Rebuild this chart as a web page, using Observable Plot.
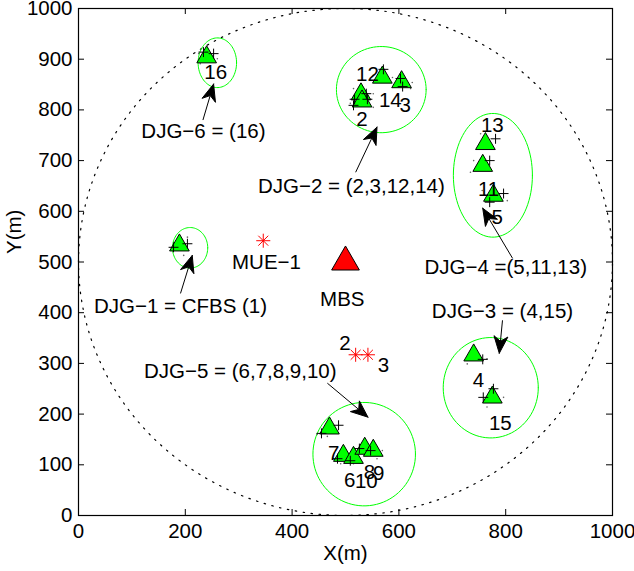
<!DOCTYPE html>
<html><head><meta charset="utf-8">
<script src="https://cdn.jsdelivr.net/npm/d3@7"></script>
<script src="https://cdn.jsdelivr.net/npm/@observablehq/plot@0.6"></script>
<style>body{margin:0;background:#fff}</style>
</head><body><div id="chart"></div>
<script>
// ---- data ----
const xTicks = [0, 200, 400, 600, 800, 1000];
const yTicks = [0, 100, 200, 300, 400, 500, 600, 700, 800, 900, 1000];

// femto base stations (green triangles)
const fbsX = [240, 569, 605, 529, 531, 762, 757, 777, 189, 740, 775, 470, 496, 515, 536, 552];
const fbsY = [904, 864, 855, 831, 817, 733, 690, 631, 533, 316, 233, 172, 118, 114, 132, 128];

// femto users (+)
const fueX = [234, 253, 571, 603, 607, 539, 517, 515, 541, 781, 770, 796, 770, 204, 178, 757, 758, 777, 487, 455, 526, 547, 509, 485];
const fueY = [914, 911, 880, 862, 846, 832, 821, 809, 821, 743, 700, 635, 618, 536, 529, 308, 233, 250, 178, 162, 132, 128, 108, 112];

// small scattered dots
const dotX = [515, 552, 552, 588, 552, 625, 622, 509, 447, 466, 569, 559, 491, 515, 753, 740, 756, 803, 734, 728, 765, 765, 796, 175, 204, 197, 225, 260, 228];
const dotY = [842, 832, 805, 864, 868, 854, 842, 813, 160, 156, 128, 112, 102, 102, 753, 700, 641, 621, 677, 299, 309, 214, 233, 529, 549, 513, 911, 901, 891];

// macro base station and macro users
const mbsX = [500], mbsY = [500];
const mueX = [346, 519, 542];
const mueY = [542, 317, 317];

// DJG cluster ellipses
const djgName = ["DJG-1", "DJG-2", "DJG-3", "DJG-4", "DJG-5", "DJG-6"];
const djgCx = [209, 567, 772, 776, 535, 260];
const djgCy = [528, 840, 252, 671, 121, 893];
const djgRx = [33, 84, 89, 74, 96, 36];
const djgRy = [40, 85, 99, 122, 102, 49];

// coverage circle of the macro cell
const cellCx = 500, cellCy = 500, cellR = 500;

// annotation texts
const annText = ["DJG\u22126 = (16)", "DJG\u22122 = (2,3,12,14)", "DJG\u22124 =(5,11,13)", "DJG\u22121 = CFBS (1)", "DJG\u22123 = (4,15)", "DJG\u22125 = (6,7,8,9,10)", "MUE\u22121", "MBS"];
const annX = [234, 511, 800, 191, 794, 303, 352, 494];
const annY = [758, 649, 489, 412, 402, 284, 499, 427];

// arrows (tail -> tip)
const arrTailX = [233, 519, 813, 191, 794, 466];
const arrTailY = [780, 677, 507, 438, 385, 261];
const arrTipX = [253, 559, 757, 213, 788, 542];
const arrTipY = [851, 766, 606, 513, 320, 194];

// index numbers
const numText = ["16", "12", "14", "3", "2", "13", "11", "5", "4", "15", "7", "8", "9", "6", "10", "2", "3"];
const numX = [257, 541, 584, 612, 531, 775, 768, 784, 749, 790, 478, 545, 562, 508, 539, 499, 571];
const numY = [874, 870, 819, 809, 782, 769, 644, 588, 266, 181, 122, 85, 83, 69, 67, 340, 296];

// ---- layout ----
const W = 634, H = 571, mL = 78, mR = 22, mT = 8, mB = 56;
const kx = (W - mL - mR) / 1000, ky = (H - mT - mB) / 1000; // px per data unit
const tickX = 6 / kx, tickY = 6 / ky;
const FS = 20.5;

// ellipse outlines (geometry from centre / radii)
const ellipsePts = [];
djgName.forEach((n, i) => {
  for (let k = 0; k <= 90; k++) {
    const a = (k / 90) * 2 * Math.PI;
    ellipsePts.push({g: n, x: djgCx[i] + djgRx[i] * Math.cos(a), y: djgCy[i] + djgRy[i] * Math.sin(a)});
  }
});
const cellPts = [];
for (let k = 0; k <= 360; k++) {
  const a = (k / 360) * 2 * Math.PI;
  cellPts.push({x: cellCx + cellR * Math.cos(a), y: cellCy + cellR * Math.sin(a)});
}

// arrows: shafts and filled notched heads
const L = 17, HW = 7, NOTCH = 5;
const shafts = [], heads = [];
arrTipX.forEach((tx, i) => {
  const sx = arrTailX[i], sy = arrTailY[i], ty = arrTipY[i];
  const dxp = (tx - sx) * kx, dyp = (ty - sy) * ky;
  const len = Math.hypot(dxp, dyp);
  const ux = dxp / len, uy = dyp / len, nx = -uy, ny = ux;
  const P = (a, b) => ({x: tx + a / kx, y: ty + b / ky, g: i});
  const tip = P(0, 0);
  const bl = P(-L * ux + HW * nx, -L * uy + HW * ny);
  const notch = P(-(L - NOTCH) * ux, -(L - NOTCH) * uy);
  const br = P(-L * ux - HW * nx, -L * uy - HW * ny);
  heads.push(tip, bl, notch, br, tip);
  shafts.push({x1: sx, y1: sy, x2: notch.x, y2: notch.y});
});

const fbs = fbsX.map((x, i) => ({x, y: fbsY[i]}));
const fue = fueX.map((x, i) => ({x, y: fueY[i]}));
const dots = dotX.map((x, i) => ({x, y: dotY[i]}));
const mbs = mbsX.map((x, i) => ({x, y: mbsY[i]}));
const mue = mueX.map((x, i) => ({x, y: mueY[i]}));
const ann = annText.map((t, i) => ({t, x: annX[i], y: annY[i]}));
const nums = numText.map((t, i) => ({t, x: numX[i], y: numY[i]}));

const font = "'Liberation Sans', Arial, Helvetica, sans-serif";
const fmt = d => String(d);

const chart = Plot.plot({
  width: W, height: H,
  marginLeft: mL, marginRight: mR, marginTop: mT, marginBottom: mB,
  style: {fontFamily: font, fontSize: FS + "px", background: "white", color: "black", overflow: "visible"},
  x: {domain: [0, 1000], ticks: xTicks, label: null, tickFormat: fmt},
  y: {domain: [0, 1000], ticks: yTicks, label: null, tickFormat: fmt},
  marks: [
    Plot.line(cellPts, {x: "x", y: "y", stroke: "black", strokeWidth: 1.2, strokeDasharray: "1.5,6.5"}),
    Plot.line(ellipsePts, {x: "x", y: "y", z: "g", stroke: "#00ff00", strokeWidth: 1}),
    Plot.dot(dots, {x: "x", y: "y", r: 0.8, fill: "#666", stroke: null}),
    Plot.dot(fbs, {x: "x", y: "y", symbol: "triangle", r: 7.3, fill: "#00ff00", stroke: "black", strokeWidth: 1}),
    Plot.dot(mbs, {x: "x", y: "y", symbol: "triangle", r: 10.3, fill: "#ff0000", stroke: "black", strokeWidth: 1}),
    Plot.dot(fue, {x: "x", y: "y", symbol: "plus", r: 3.3, stroke: "black", strokeWidth: 1}),
    Plot.dot(mue, {x: "x", y: "y", symbol: "plus", r: 4.6, stroke: "#ff0000", strokeWidth: 1}),
    Plot.dot(mue, {x: "x", y: "y", symbol: "times", r: 4.6, stroke: "#ff0000", strokeWidth: 1}),
    Plot.text(nums, {x: "x", y: "y", text: "t", fontSize: FS, fill: "black", textAnchor: "middle", lineAnchor: "middle"}),
    Plot.text(ann, {x: "x", y: "y", text: "t", fontSize: FS, fill: "black", textAnchor: "middle", lineAnchor: "middle"}),
    Plot.link(shafts, {x1: "x1", y1: "y1", x2: "x2", y2: "y2", stroke: "black", strokeWidth: 1}),
    Plot.line(heads, {x: "x", y: "y", z: "g", fill: "black", stroke: "black", strokeWidth: 1, strokeLinejoin: "miter"}),
    // inward ticks (MATLAB style, box on)
    Plot.ruleX(xTicks, {x: d => d, y1: 0, y2: tickY, stroke: "black", strokeWidth: 1}),
    Plot.ruleX(xTicks, {x: d => d, y1: 1000 - tickY, y2: 1000, stroke: "black", strokeWidth: 1}),
    Plot.ruleY(yTicks, {y: d => d, x1: 0, x2: tickX, stroke: "black", strokeWidth: 1}),
    Plot.ruleY(yTicks, {y: d => d, x1: 1000 - tickX, x2: 1000, stroke: "black", strokeWidth: 1}),
    Plot.frame({stroke: "black", strokeWidth: 1.2}),
    Plot.axisX({ticks: xTicks, tickFormat: fmt, tickSize: 0, tickPadding: 8, label: null, fontSize: FS}),
    Plot.axisY({ticks: yTicks, tickFormat: fmt, tickSize: 0, tickPadding: 6, label: null, fontSize: FS}),
    Plot.text(["X(m)"], {frameAnchor: "bottom", dy: 38, text: d => d, fontSize: FS, lineAnchor: "middle"}),
    Plot.text(["Y(m)"], {frameAnchor: "left", dx: -64, dy: -8, text: d => d, fontSize: FS, rotate: -90, lineAnchor: "middle"})
  ]
});
document.getElementById("chart").appendChild(chart);
</script>
</body></html>
